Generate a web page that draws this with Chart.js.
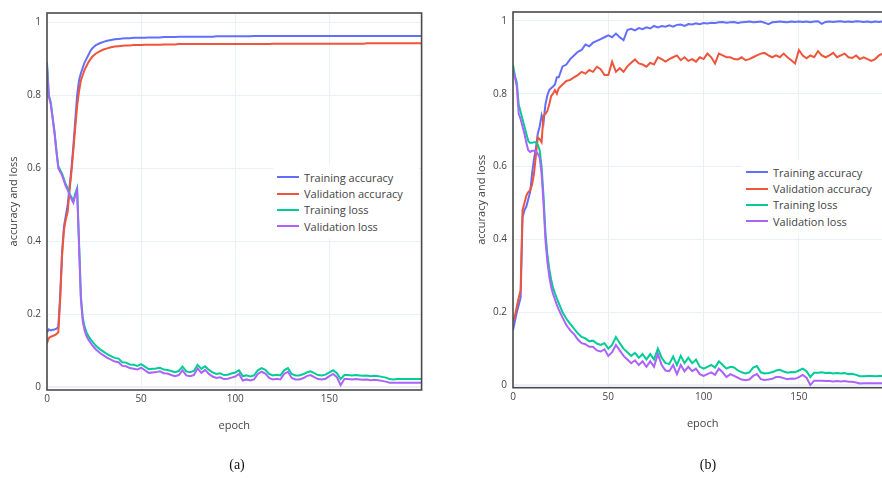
<!DOCTYPE html>
<html>
<head>
<meta charset="utf-8">
<script src="https://cdn.jsdelivr.net/npm/chart.js@4.4.1/dist/chart.umd.min.js"></script>
<style>
  body { margin: 0; width: 882px; height: 478px; overflow: hidden; background: #fff; position: relative; font-family: "Open Sans", sans-serif; }
  canvas { position: absolute; top: 0; }
  #chartA { left: 0; }
  #chartB { left: 441px; }
  .legend { position: absolute; background: #fff; font-size: 11px; color: #444; padding-top: 4px; }
  .legend .row { height: 16.4px; display: flex; align-items: center; white-space: nowrap; }
  .legend .sw { width: 22px; height: 2px; margin-left: 4px; margin-right: 5px; }
  .cap { position: absolute; top: 457px; width: 40px; text-align: center; font: 14px "Liberation Serif", serif; color: #111; }
</style>
</head>
<body>
<canvas id="chartA" width="441" height="478"></canvas>
<canvas id="chartB" width="470" height="478"></canvas>
<div class="legend" id="legendA" style="left:273px; top:165px; width:146px; height:70px;"></div>
<div class="legend" id="legendB" style="left:742px; top:160px; width:140px; height:70px;"></div>
<div class="cap" style="left:217px;">(a)</div>
<div class="cap" style="left:688px;">(b)</div>
<script>
const seriesNames = ['Training accuracy', 'Validation accuracy', 'Training loss', 'Validation loss'];
const seriesColors = ['#636efa', '#ef553b', '#00cc96', '#ab63fa'];
const xTicks = [0, 50, 100, 150];
const yTicks = [0, 0.2, 0.4, 0.6, 0.8, 1];

// epochs sampled: every epoch up to 24, then every second one
const epochs = [
  0, 1, 2, 3, 4, 5, 6, 7, 8, 9, 10, 11, 12, 13, 14, 15, 16, 17, 18, 19, 20, 21, 22, 23, 24,
  26, 28, 30, 32, 34, 36, 38, 40, 42, 44, 46, 48,
  50, 52, 54, 56, 58, 60, 62, 64, 66, 68, 70, 72, 74, 76, 78, 80, 82, 84, 86, 88, 90, 92, 94, 96, 98,
  100, 102, 104, 106, 108, 110, 112, 114, 116, 118, 120, 122, 124, 126, 128, 130, 132, 134, 136, 138, 140, 142, 144, 146, 148,
  150, 152, 154, 156, 158, 160, 162, 164, 166, 168, 170, 172, 174, 176, 178, 180, 182, 184, 186, 188, 190, 192, 194, 196, 198,
  199
];

// (a)
const accTrainA = [
  0.150, 0.158, 0.155, 0.157, 0.158, 0.160, 0.165, 0.250, 0.370, 0.440, 0.470, 0.500, 0.550, 0.600, 0.660, 0.730, 0.800, 0.840, 0.860, 0.875, 0.890, 0.900, 0.910, 0.920, 0.928,
  0.937, 0.942, 0.946, 0.949, 0.951, 0.953, 0.954, 0.955, 0.956, 0.956, 0.957, 0.957,
  0.957, 0.957, 0.958, 0.958, 0.958, 0.958, 0.959, 0.959, 0.959, 0.959, 0.960, 0.960, 0.960, 0.960, 0.960, 0.960, 0.960, 0.960, 0.960, 0.960, 0.961, 0.961, 0.961, 0.961, 0.961,
  0.961, 0.961, 0.961, 0.961, 0.961, 0.962, 0.962, 0.962, 0.962, 0.962, 0.962, 0.962, 0.962, 0.962, 0.962, 0.962, 0.962, 0.962, 0.962, 0.962, 0.962, 0.962, 0.962, 0.962, 0.962,
  0.962, 0.962, 0.962, 0.962, 0.962, 0.962, 0.962, 0.962, 0.962, 0.962, 0.962, 0.962, 0.962, 0.962, 0.962, 0.962, 0.962, 0.962, 0.962, 0.962, 0.962, 0.962, 0.962, 0.962, 0.962,
  0.962
];
const accValA = [
  0.120, 0.135, 0.138, 0.140, 0.142, 0.145, 0.150, 0.240, 0.360, 0.430, 0.460, 0.480, 0.540, 0.590, 0.650, 0.710, 0.770, 0.810, 0.840, 0.855, 0.870, 0.880, 0.890, 0.898, 0.905,
  0.914, 0.920, 0.925, 0.928, 0.931, 0.933, 0.934, 0.935, 0.936, 0.936, 0.937, 0.937,
  0.937, 0.938, 0.938, 0.938, 0.938, 0.938, 0.939, 0.939, 0.939, 0.939, 0.940, 0.940, 0.940, 0.940, 0.940, 0.940, 0.940, 0.940, 0.940, 0.940, 0.940, 0.940, 0.940, 0.940, 0.940,
  0.940, 0.940, 0.940, 0.940, 0.940, 0.940, 0.940, 0.940, 0.940, 0.940, 0.941, 0.941, 0.941, 0.941, 0.941, 0.941, 0.941, 0.941, 0.941, 0.941, 0.941, 0.941, 0.941, 0.941, 0.941,
  0.941, 0.941, 0.941, 0.941, 0.941, 0.941, 0.941, 0.941, 0.941, 0.941, 0.942, 0.942, 0.942, 0.942, 0.942, 0.942, 0.942, 0.942, 0.942, 0.942, 0.942, 0.942, 0.942, 0.942, 0.942,
  0.942
];
const lossTrainA = [
  0.890, 0.800, 0.780, 0.740, 0.700, 0.650, 0.605, 0.595, 0.585, 0.570, 0.555, 0.545, 0.530, 0.520, 0.510, 0.530, 0.545, 0.400, 0.250, 0.190, 0.165, 0.150, 0.140, 0.132, 0.125,
  0.113, 0.104, 0.097, 0.090, 0.085, 0.080, 0.078, 0.068, 0.067, 0.062, 0.061, 0.058,
  0.063, 0.056, 0.049, 0.050, 0.051, 0.053, 0.048, 0.047, 0.044, 0.041, 0.044, 0.056, 0.043, 0.041, 0.044, 0.061, 0.050, 0.057, 0.047, 0.040, 0.036, 0.038, 0.033, 0.034, 0.037,
  0.040, 0.046, 0.030, 0.032, 0.029, 0.032, 0.046, 0.052, 0.047, 0.036, 0.032, 0.034, 0.032, 0.046, 0.052, 0.036, 0.032, 0.032, 0.035, 0.040, 0.043, 0.038, 0.033, 0.032, 0.034,
  0.040, 0.046, 0.038, 0.022, 0.033, 0.033, 0.032, 0.033, 0.032, 0.031, 0.032, 0.030, 0.031, 0.030, 0.028, 0.026, 0.022, 0.021, 0.022, 0.022, 0.022, 0.022, 0.022, 0.022, 0.022,
  0.022
];
const lossValA = [
  0.880, 0.795, 0.775, 0.735, 0.695, 0.645, 0.600, 0.590, 0.580, 0.565, 0.550, 0.540, 0.525, 0.515, 0.505, 0.525, 0.540, 0.390, 0.240, 0.180, 0.155, 0.140, 0.130, 0.122, 0.115,
  0.103, 0.094, 0.087, 0.080, 0.075, 0.070, 0.068, 0.058, 0.057, 0.052, 0.050, 0.048,
  0.053, 0.046, 0.039, 0.040, 0.041, 0.043, 0.038, 0.037, 0.033, 0.030, 0.033, 0.046, 0.032, 0.030, 0.033, 0.051, 0.039, 0.047, 0.036, 0.029, 0.025, 0.027, 0.022, 0.023, 0.026,
  0.029, 0.036, 0.018, 0.021, 0.018, 0.021, 0.036, 0.042, 0.037, 0.025, 0.021, 0.023, 0.021, 0.036, 0.042, 0.025, 0.021, 0.021, 0.024, 0.030, 0.033, 0.027, 0.022, 0.021, 0.023,
  0.030, 0.036, 0.027, 0.005, 0.022, 0.022, 0.021, 0.022, 0.021, 0.020, 0.021, 0.019, 0.020, 0.019, 0.017, 0.015, 0.012, 0.012, 0.012, 0.012, 0.012, 0.012, 0.012, 0.012, 0.012,
  0.012
];

// (b)
const accTrainB = [
  0.150, 0.175, 0.200, 0.220, 0.240, 0.460, 0.480, 0.490, 0.510, 0.530, 0.580, 0.620, 0.650, 0.690, 0.710, 0.740, 0.720, 0.770, 0.795, 0.810, 0.815, 0.820, 0.825, 0.845, 0.845,
  0.875, 0.880, 0.895, 0.905, 0.915, 0.920, 0.935, 0.930, 0.940, 0.945, 0.950, 0.955,
  0.960, 0.955, 0.965, 0.955, 0.947, 0.975, 0.978, 0.974, 0.980, 0.977, 0.982, 0.979, 0.986, 0.982, 0.986, 0.984, 0.988, 0.984, 0.989, 0.990, 0.986, 0.991, 0.990, 0.993, 0.991,
  0.994, 0.993, 0.995, 0.994, 0.996, 0.997, 0.995, 0.996, 0.997, 0.994, 0.996, 0.997, 0.998, 0.996, 0.997, 0.998, 0.995, 0.991, 0.996, 0.997, 0.998, 0.997, 0.996, 0.998, 0.997,
  0.998, 0.997, 0.998, 0.996, 0.998, 0.999, 0.992, 0.997, 0.998, 0.997, 0.998, 0.999, 0.997, 0.998, 0.997, 0.999, 0.998, 0.997, 0.998, 0.996, 0.998, 0.997, 0.998, 0.999, 0.997,
  0.998
];
const accValB = [
  0.175, 0.190, 0.215, 0.240, 0.260, 0.480, 0.500, 0.520, 0.530, 0.535, 0.550, 0.580, 0.630, 0.680, 0.675, 0.667, 0.740, 0.745, 0.752, 0.770, 0.793, 0.800, 0.810, 0.800, 0.815,
  0.825, 0.835, 0.838, 0.845, 0.851, 0.860, 0.855, 0.865, 0.860, 0.874, 0.867, 0.851,
  0.851, 0.888, 0.860, 0.870, 0.860, 0.875, 0.885, 0.894, 0.883, 0.880, 0.874, 0.885, 0.880, 0.900, 0.895, 0.888, 0.895, 0.900, 0.905, 0.892, 0.900, 0.890, 0.895, 0.888, 0.900,
  0.895, 0.910, 0.900, 0.883, 0.910, 0.905, 0.900, 0.900, 0.895, 0.894, 0.900, 0.892, 0.895, 0.900, 0.905, 0.910, 0.912, 0.905, 0.900, 0.905, 0.900, 0.910, 0.900, 0.892, 0.883,
  0.920, 0.905, 0.897, 0.905, 0.900, 0.917, 0.905, 0.900, 0.905, 0.912, 0.900, 0.905, 0.910, 0.900, 0.898, 0.905, 0.895, 0.900, 0.895, 0.890, 0.895, 0.905, 0.910, 0.905, 0.910,
  0.910
];
const lossTrainB = [
  0.878, 0.850, 0.830, 0.770, 0.750, 0.730, 0.710, 0.690, 0.670, 0.665, 0.665, 0.667, 0.667, 0.660, 0.645, 0.600, 0.520, 0.420, 0.360, 0.320, 0.290, 0.268, 0.252, 0.238, 0.225,
  0.200, 0.182, 0.168, 0.155, 0.142, 0.132, 0.128, 0.120, 0.122, 0.114, 0.110, 0.115,
  0.100, 0.110, 0.132, 0.115, 0.100, 0.090, 0.080, 0.088, 0.075, 0.085, 0.070, 0.085, 0.070, 0.100, 0.075, 0.060, 0.058, 0.078, 0.055, 0.080, 0.060, 0.075, 0.060, 0.070, 0.050,
  0.045, 0.050, 0.055, 0.048, 0.065, 0.055, 0.045, 0.050, 0.048, 0.040, 0.035, 0.032, 0.035, 0.048, 0.052, 0.035, 0.032, 0.033, 0.035, 0.040, 0.042, 0.037, 0.034, 0.036, 0.035,
  0.040, 0.045, 0.038, 0.022, 0.034, 0.034, 0.035, 0.033, 0.034, 0.032, 0.033, 0.032, 0.033, 0.030, 0.031, 0.028, 0.024, 0.024, 0.025, 0.025, 0.024, 0.025, 0.025, 0.025, 0.025,
  0.025
];
const lossValB = [
  0.865, 0.845, 0.820, 0.745, 0.730, 0.710, 0.690, 0.665, 0.645, 0.640, 0.643, 0.643, 0.642, 0.635, 0.625, 0.580, 0.500, 0.400, 0.340, 0.300, 0.270, 0.250, 0.235, 0.220, 0.207,
  0.185, 0.165, 0.150, 0.140, 0.125, 0.115, 0.112, 0.105, 0.105, 0.095, 0.092, 0.098,
  0.080, 0.090, 0.110, 0.095, 0.080, 0.070, 0.060, 0.068, 0.055, 0.065, 0.050, 0.065, 0.050, 0.085, 0.055, 0.040, 0.038, 0.055, 0.030, 0.055, 0.038, 0.050, 0.038, 0.045, 0.030,
  0.025, 0.030, 0.035, 0.028, 0.045, 0.035, 0.022, 0.030, 0.025, 0.020, 0.015, 0.013, 0.015, 0.025, 0.030, 0.016, 0.014, 0.015, 0.017, 0.022, 0.022, 0.019, 0.016, 0.018, 0.017,
  0.022, 0.028, 0.020, 0.000, 0.012, 0.012, 0.012, 0.011, 0.011, 0.010, 0.011, 0.010, 0.011, 0.009, 0.009, 0.007, 0.004, 0.005, 0.005, 0.005, 0.005, 0.005, 0.005, 0.005, 0.005,
  0.005
];

Chart.defaults.font.family = "'Open Sans', sans-serif";
Chart.defaults.color = '#444';

// plotly-like box round the plot area
const frame = {
  id: 'frame',
  afterDatasetsDraw(chart) {
    const { ctx, chartArea: a } = chart;
    ctx.save();
    ctx.strokeStyle = '#4a4a4a';
    ctx.lineWidth = 1.6;
    ctx.strokeRect(a.left, a.top, a.right - a.left, a.bottom - a.top);
    ctx.restore();
  }
};

function makeChart(id, series, o) {
  return new Chart(document.getElementById(id), {
    type: 'line',
    data: {
      datasets: series.map((s, i) => ({
        label: seriesNames[i],
        data: epochs.map((e, k) => ({ x: e, y: s[k] })),
        borderColor: seriesColors[i],
        borderWidth: 2,
        pointRadius: 0,
        tension: 0,
        order: series.length - i
      }))
    },
    options: {
      responsive: false,
      animation: false,
      layout: { padding: o.pad },
      plugins: { legend: { display: false }, tooltip: { enabled: false } },
      scales: {
        x: {
          type: 'linear', min: 0, max: 199,
          afterBuildTicks: s => { s.ticks = xTicks.map(v => ({ value: v })); },
          afterFit: s => { s.height = o.xh; },
          grid: { color: '#ebf0f8', drawTicks: false },
          border: { display: false },
          ticks: { font: { size: 10 }, padding: 3 },
          title: { display: true, text: 'epoch', font: { size: 11 }, padding: { top: 0, bottom: 0 } }
        },
        y: {
          min: o.ymin, max: o.ymax,
          afterBuildTicks: s => { s.ticks = yTicks.map(v => ({ value: v })); },
          afterFit: s => { s.width = o.yw; },
          grid: { color: '#ebf0f8', drawTicks: false, lineWidth: c => (c.tick && c.tick.value === 0 ? 2 : 1) },
          border: { display: false },
          ticks: { font: { size: 10 }, padding: 6, callback: v => String(v) },
          title: { display: true, text: 'accuracy and loss', font: { size: 11 }, padding: { top: 7, bottom: 0 } }
        }
      }
    },
    plugins: [frame]
  });
}

makeChart('chartA', [accTrainA, accValA, lossTrainA, lossValA],
  { pad: { left: 0, top: 13, right: 19.4, bottom: 46 }, xh: 42, yw: 47, ymin: -0.008, ymax: 1.025 });
makeChart('chartB', [accTrainB, accValB, lossTrainB, lossValB],
  { pad: { left: 27, top: 6, right: 18.7, bottom: 47.5 }, xh: 42.8, yw: 45, ymin: -0.0073, ymax: 1.0243 });

function fillLegend(id) {
  const box = document.getElementById(id);
  seriesNames.forEach((name, i) => {
    const row = document.createElement('div');
    row.className = 'row';
    const sw = document.createElement('span');
    sw.className = 'sw';
    sw.style.background = seriesColors[i];
    row.appendChild(sw);
    row.appendChild(document.createTextNode(name));
    box.appendChild(row);
  });
}
fillLegend('legendA');
fillLegend('legendB');
</script>
</body>
</html>
